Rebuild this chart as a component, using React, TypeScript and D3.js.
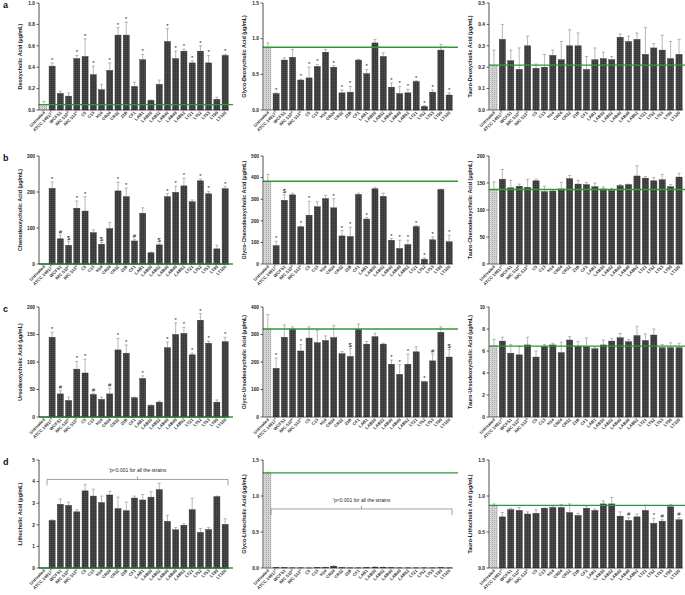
import React from "react";
import * as d3 from "d3";

const categories = ["Untreated","ATCC 14917","WCFS1","IMC 510","IMC 513","C5","C13","H14","CR04","CR32","21B","CF1","LAB1","LAB30","LAB32","LAB40","LAB49","LAB52","LT21","LT52","LT53","LT99","LT100"];
const catSup = ["","T","","®","®","","","","","","","","","","","","","","","","","",""];

const dcaMean = [0.05,0.41,0.155,0.13,0.48,0.50,0.33,0.19,0.37,0.70,0.70,0.22,0.47,0.09,0.24,0.64,0.48,0.55,0.44,0.55,0.44,0.10,0.51];
const dcaSd = [0.03,0.03,0.02,0.03,0.03,0.165,0.08,0.05,0.07,0.07,0.12,0.04,0.05,0.005,0.04,0.12,0.07,0.02,0.02,0.05,0.07,0.02,0.01];
const dcaSig = ["","*","","","*","*","*","","*","*","*","","*","","","*","*","*","*","*","*","","*"];

const gdcaMean = [0.88,0.23,0.70,0.74,0.42,0.45,0.61,0.81,0.60,0.24,0.25,0.70,0.51,0.94,0.75,0.32,0.23,0.24,0.40,0.05,0.25,0.84,0.21];
const gdcaSd = [0.06,0.01,0.03,0.11,0.01,0.15,0.03,0.04,0.02,0.04,0.08,0.01,0.06,0.05,0.05,0.06,0.10,0.05,0.01,0.01,0.03,0.08,0.03];
const gdcaSig = ["","*","","","*","*","*","","*","*","*","","*","","","*","*","*","*","*","*","","*"];

const tdcaMean = [0.21,0.33,0.23,0.19,0.30,0.195,0.20,0.255,0.235,0.30,0.30,0.19,0.235,0.24,0.235,0.34,0.32,0.33,0.26,0.29,0.28,0.24,0.26];
const tdcaSd = [0.07,0.07,0.05,0.10,0.045,0.02,0.06,0.025,0.085,0.075,0.06,0.06,0.055,0.03,0.015,0.015,0.025,0.03,0.125,0.02,0.07,0.08,0.07];
const tdcaSig = categories.map(() => "");

const cdcaMean = [0,210,70,52,155,147,87,55,98,203,187,64,141,31,53,187,199,217,173,231,195,42,209];
const cdcaSd = [0,18,10,11,20,40,8,5,17,24,24,5,15,2,3,8,17,21,5,5,7,10,6];
const cdcaSig = ["","*","#","$","*","*","","$","","*","*","#","","","$","*","*","*","","*","*","","*"];

const gcdcaMean = [383,85,295,320,172,226,265,303,260,130,127,322,208,348,313,110,72,90,173,22,112,345,103];
const gcdcaSd = [32,20,25,8,3,64,23,15,42,25,43,6,7,7,15,8,38,20,5,6,13,2,30];
const gcdcaSig = ["","*","$","","*","*","","","*","*","*","","*","","","*","*","*","*","*","*","","*"];

const tcdcaMean = [138,157,141,144,142,154,134,135,139,158,148,147,143,139,136,145,147,163,159,154,156,143,161];
const tcdcaSd = [14,18,14,4,15,3,10,2,12,6,7,4,7,4,4,2,1,19,3,6,10,4,7];
const tcdcaSig = categories.map(() => "");

const udcaMean = [0,145,42,30,87,80,41,32,42,122,116,35,70,21,27,126,150,152,113,176,134,27,137];
const udcaSd = [0,9,6,6,14,25,2,4,10,21,15,1,5,1,2,10,21,11,3,12,4,4,8];
const udcaSig = ["","*","#","","*","*","#","","#","*","*","","*","","","*","*","*","*","*","*","","*"];

const gudcaMean = [320,177,290,320,240,287,270,278,289,230,220,319,265,292,265,192,155,192,237,128,204,308,218];
const gudcaSd = [52,37,45,8,24,41,45,17,43,8,30,19,10,13,3,15,35,37,18,2,25,20,28];
const gudcaSig = ["","*","","","*","","","","","","$","","","","","*","*","*","","*","#","","$"];

const tudcaMean = [6.5,6.9,5.8,5.65,6.55,5.45,6.4,6.55,5.85,7.0,6.45,6.4,6.2,6.55,6.9,7.2,6.85,7.4,6.95,7.45,6.3,6.3,6.3];
const tudcaSd = [0.55,0.35,0.8,0.8,0.7,0.55,0.2,0.15,0.95,0.3,0.4,0.8,0.15,0.45,0.25,0.4,0.2,0.85,0.6,0.55,0.3,0.45,0.4];
const tudcaSig = categories.map(() => "");

const lcaMean = [0,2.2,2.95,2.9,2.6,3.57,3.33,3.03,3.38,2.75,2.65,3.24,3.15,3.28,3.63,2.16,1.77,1.98,2.7,1.65,1.78,3.3,2.02];
const lcaSd = [0,0.03,0.25,0.15,0.1,0.3,0.32,0.3,0.17,0.53,0.4,0.09,0.25,0.25,0.3,0.28,0.1,0.07,0.53,0.18,0.09,0.03,0.26];
const lcaSig = categories.map(() => "");

const glcaMean = [1.32,0.005,0.003,0.002,0.002,0.001,0.005,0.008,0.025,0.003,0.002,0.002,0.006,0.012,0.01,0.003,0.002,0.002,0.002,0.002,0.002,0.004,0.002];
const glcaSd = [0.01,0.002,0.001,0.001,0.001,0.001,0.002,0.002,0.006,0.001,0.001,0.001,0.002,0.003,0.003,0.001,0.001,0.001,0.001,0.001,0.001,0.002,0.001];
const glcaSig = categories.map(() => "");

const tlcaMean = [0.87,0.71,0.81,0.80,0.75,0.76,0.83,0.84,0.84,0.77,0.73,0.83,0.80,0.89,0.89,0.72,0.66,0.71,0.80,0.62,0.65,0.85,0.67];
const tlcaSd = [0.02,0.06,0.02,0.04,0.03,0.05,0.005,0.01,0.04,0.12,0.03,0.03,0.02,0.04,0.09,0.06,0.04,0.04,0.07,0.07,0.02,0.03,0.03];
const tlcaSig = ["","","","","","","","","","","","","","","","","#","","","*","#","","#"];

const yTitles = [
  "Deoxycholic Acid (µg/mL)","Glyco-Deoxycholic Acid (µg/mL)","Tauro-Deoxycholic Acid (µg/mL)",
  "Chenodeoxycholic Acid (µg/mL)","Glyco-Chenodeoxycholic Acid (µg/mL)","Tauro-Chenodeoxycholic Acid (µg/mL)",
  "Ursodeoxycholic Acid (µg/mL)","Glyco-Ursodeoxycholic Acid (µg/mL)","Tauro-Ursodeoxycholic Acid (µg/mL)",
  "Lithocholic Acid (µg/mL)","Glyco-Lithocholic Acid (µg/mL)","Tauro-Lithocholic Acid (µg/mL)",
];
const yMax = [1.0,1.5,0.5,300,500,200,200,400,10,5,1.5,1.5];
const yStep = [0.2,0.5,0.1,100,100,50,50,100,2,1,0.5,0.5];
const yDecimals = [1,1,1,0,0,0,0,0,0,0,1,1];
const controlLevel = [0.05,0.88,0.21,0,383,138,0,320,6.45,0,1.32,0.87];
const rowLetters = ["a","b","c","d"];
const bracketNote = "p<0.001 for all the strains";
const bracketLevel = [null,null,null,null,null,null,null,null,null,4.1,0.82,null];

const means = [dcaMean,gdcaMean,tdcaMean,cdcaMean,gcdcaMean,tcdcaMean,udcaMean,gudcaMean,tudcaMean,lcaMean,glcaMean,tlcaMean];
const sds = [dcaSd,gdcaSd,tdcaSd,cdcaSd,gcdcaSd,tcdcaSd,udcaSd,gudcaSd,tudcaSd,lcaSd,glcaSd,tlcaSd];
const sigs = [dcaSig,gdcaSig,tdcaSig,cdcaSig,gcdcaSig,tcdcaSig,udcaSig,gudcaSig,tudcaSig,lcaSig,glcaSig,tlcaSig];

const colAxisX = [39, 263, 489];
const colRight = [229, 453, 683];
const colLineEnd = [233, 458, 685];
const rowTop = [3, 156, 307, 460];
const rowBottom = [110, 264, 417, 568];

const FONT = "Liberation Sans, Arial, sans-serif";

function Panel({ idx }: { idx: number }) {
  const r = Math.floor(idx / 3), c = idx % 3;
  const x0 = colAxisX[c];
  const x = d3.scaleBand<string>().domain(categories).range([x0 + 1, colRight[c]]).paddingInner(0.26).paddingOuter(0.1);
  const y = d3.scaleLinear().domain([0, yMax[idx]]).range([rowBottom[r], rowTop[r]]);
  const ticks = d3.range(0, yMax[idx] + yStep[idx] / 2, yStep[idx]);
  const fmt = d3.format(`.${yDecimals[idx]}f`);
  const mean = means[idx], sd = sds[idx], sig = sigs[idx];
  const bw = x.bandwidth();
  const midY = (rowTop[r] + rowBottom[r]) / 2;
  const bl = bracketLevel[idx];
  return (
    <g>
      {categories.map((cat, i) => {
        const bx = x(cat)!;
        const top = y(mean[i]);
        const h = Math.max(0, rowBottom[r] - top);
        const errTop = y(mean[i] + sd[i]);
        const cx = bx + bw / 2;
        return (
          <g key={cat}>
            {sd[i] > 0 && (
              <g stroke="#9a9a9a" strokeWidth={0.7}>
                <line x1={cx} x2={cx} y1={top} y2={errTop} />
                <line x1={cx - 1.6} x2={cx + 1.6} y1={errTop} y2={errTop} />
              </g>
            )}
            {h > 0 && (
              <rect x={bx} y={top} width={bw} height={h}
                fill={i === 0 ? "url(#dots)" : "url(#hatch)"}
                stroke={i === 0 ? "#9a9a9a" : "#2e2e2e"} strokeWidth={0.4} />
            )}
            {sig[i] && (
              <text x={cx} y={errTop - (sig[i] === "*" ? 1 : 1.5)} textAnchor="middle"
                fontSize={sig[i] === "*" ? 6 : 6} fontFamily={FONT} fill="#222">{sig[i]}</text>
            )}
          </g>
        );
      })}
      <line x1={x0} x2={colLineEnd[c]} y1={y(controlLevel[idx])} y2={y(controlLevel[idx])}
        stroke="#2f9a34" strokeWidth={1.3} />
      <line x1={x0} x2={x0} y1={rowTop[r]} y2={rowBottom[r]} stroke="#222" strokeWidth={0.8} />
      <line x1={x0} x2={colRight[c]} y1={rowBottom[r]} y2={rowBottom[r]} stroke="#222" strokeWidth={0.6} />
      {ticks.map((t) => (
        <g key={t}>
          <line x1={x0 - 2.5} x2={x0} y1={y(t)} y2={y(t)} stroke="#222" strokeWidth={0.7} />
          <text x={x0 - 4} y={y(t) + 1.7} textAnchor="end" fontSize={4.8} fontWeight="bold" fontFamily={FONT} fill="#222">{fmt(t)}</text>
        </g>
      ))}
      <text transform={`translate(${x0 - 17},${midY}) rotate(-90)`} textAnchor="middle" fontSize={5.4}
        fontWeight="bold" fontFamily={FONT} fill="#222">{yTitles[idx]}</text>
      {categories.map((cat, i) => {
        const cx = x(cat)! + bw / 2 + 1.5;
        return (
          <text key={cat} transform={`translate(${cx},${rowBottom[r] + 3}) rotate(-45)`} textAnchor="end"
            fontSize={4.3} fontWeight="bold" fontFamily={FONT} fill="#333">
            {cat}
            {catSup[i] && <tspan fontSize={3} dy={-1.5}>{catSup[i]}</tspan>}
          </text>
        );
      })}
      {bl !== null && (() => {
        const yb = y(bl as number);
        const xl = x(categories[1])! - 2;
        const xr = colRight[c] - 1;
        const xm = (xl + xr) / 2;
        return (
          <g>
            <path d={`M${xl},${yb + 6}V${yb}H${xr}V${yb + 6}M${xm},${yb}V${yb - 3}`} fill="none" stroke="#777" strokeWidth={0.7} />
            <text x={xm} y={yb - 7} textAnchor="middle" fontSize={5} fontFamily={FONT} fill="#222">
              <tspan fontSize={3.5} dy={-1.2}>*</tspan><tspan dy={1.2}>{bracketNote}</tspan>
            </text>
          </g>
        );
      })()}
      {c === 0 && (
        <text x={3} y={rowTop[r] + 5} fontSize={9} fontWeight="bold" fontFamily={FONT} fill="#111">{rowLetters[r]}</text>
      )}
    </g>
  );
}

export default function App() {
  return (
    <svg width={685} height={595} style={{ position: "absolute", left: 0, top: 0, background: "#fff" }}>
      <defs>
        <pattern id="hatch" width={2} height={2} patternUnits="userSpaceOnUse">
          <rect width={2} height={2} fill="#3a3a3a" />
          <rect width={1} height={1} fill="#555" />
        </pattern>
        <pattern id="dots" width={2} height={2} patternUnits="userSpaceOnUse">
          <rect width={2} height={2} fill="#d4d4d4" />
          <rect width={1} height={1} fill="#a8a8a8" />
        </pattern>
      </defs>
      <rect width={685} height={595} fill="#fff" />
      {d3.range(12).map((i) => <Panel key={i} idx={i} />)}
    </svg>
  );
}
